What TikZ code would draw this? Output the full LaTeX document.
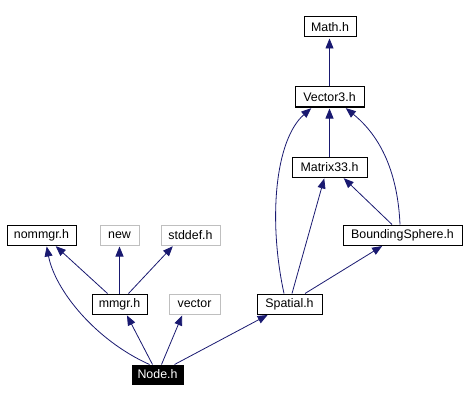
\documentclass[tikz,border=0pt]{standalone}
\usepackage{fontspec}
\setmainfont{Liberation Sans}
\usetikzlibrary{arrows.meta}
\definecolor{edgecol}{HTML}{191970}
\definecolor{graybox}{HTML}{BFBFBF}
\begin{document}
\begin{tikzpicture}[x=1pt,y=-1pt,
  box/.style={draw=black,line width=1pt,fill=white,minimum height=20pt,inner sep=0pt,font=\fontsize{12.4}{14}\selectfont},
  gbox/.style={box,draw=graybox},
  nodebox/.style={box,fill=black,text=white,minimum height=19pt},
  dep/.style={draw=edgecol,line width=0.8pt,-{Triangle[length=10pt,width=8pt]},shorten >=1pt}]
\useasboundingbox (0,0) rectangle (465,401);
\node[box,minimum width=52pt] (math) at (330,27) {Math.h};
\node[box,minimum width=69pt] (vec3) at (329.5,97) {Vector3.h};
\node[box,minimum width=75pt] (mat33) at (329.5,167) {Matrix33.h};
\node[box,minimum width=119pt] (bsph) at (402.5,235) {BoundingSphere.h};
\node[box,minimum width=65pt] (spatial) at (289.5,304) {Spatial.h};
\node[box,minimum width=69pt] (nommgr) at (41.5,235) {nommgr.h};
\node[gbox,minimum width=39pt] (new) at (119.5,235) {new};
\node[gbox,minimum width=59pt] (stddef) at (190.5,235) {stddef.h};
\node[box,minimum width=55pt] (mmgr) at (119.5,304) {mmgr.h};
\node[gbox,minimum width=51pt] (vector) at (194.5,304) {vector};
\node[nodebox,minimum width=51pt] (node) at (157.5,374.5) {Node.h};
% edges
\draw[dep] ([xshift=-8pt]node.north) .. controls (95,340) and (55,290) .. ([xshift=5pt]nommgr.south);
\draw[dep] ([xshift=-5pt]node.north) -- ([xshift=7pt]mmgr.south);
\draw[dep] ([xshift=4pt]node.north) -- ([xshift=-12pt]vector.south);
\draw[dep] ([xshift=17pt]node.north) -- ([xshift=-21pt]spatial.south);
\draw[dep] ([xshift=-12pt]mmgr.north) -- ([xshift=13.5pt]nommgr.south);
\draw[dep] (mmgr.north) -- (new.south);
\draw[dep] ([xshift=9pt]mmgr.north) -- ([xshift=-17pt]stddef.south);
\draw[dep] ([xshift=-5.5pt]spatial.north) .. controls (268,220) and (275,140) .. ([xshift=-17.5pt]vec3.south);
\draw[dep] ([xshift=2.5pt]spatial.north) -- ([xshift=-5pt]mat33.south);
\draw[dep] ([xshift=15.5pt]spatial.north) -- ([xshift=-19.5pt]bsph.south);
\draw[dep] ([xshift=-2.5pt]bsph.north) .. controls (398,180) and (385,140) .. ([xshift=15.5pt]vec3.south);
\draw[dep] ([xshift=-10.5pt]bsph.north) -- ([xshift=13.5pt]mat33.south);
\draw[dep] (mat33.north) -- (vec3.south);
\draw[dep] (vec3.north) -- ([xshift=-0.5pt]math.south);
\end{tikzpicture}
\end{document}
